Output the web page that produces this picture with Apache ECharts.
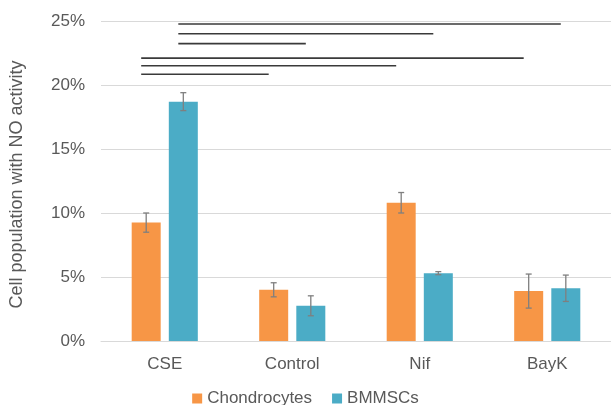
<!DOCTYPE html>
<html>
<head>
<meta charset="utf-8">
<script src="https://cdn.jsdelivr.net/npm/echarts@6/dist/echarts.min.js"></script>
<style>
html,body{margin:0;padding:0;background:#fff;}
#chart{width:611px;height:405px;}
</style>
</head>
<body>
<div id="chart"></div>
<script>
// Data
var categories = ['CSE', 'Control', 'Nif', 'BayK'];
var seriesNames = ['Chondrocytes', 'BMMSCs'];
var chondrocytes = [9.25, 4.0, 10.8, 3.9];
var chondrocytesErr = [0.75, 0.55, 0.8, 1.33];
var bmmscs = [18.7, 2.75, 5.3, 4.12];
var bmmscsErr = [0.7, 0.78, 0.12, 1.03];
var yTicks = [0, 5, 10, 15, 20, 25];
// significance lines: from (category, series index) to (category, series index) at level
var sigLevel = [24.77, 24.0, 23.23, 22.1, 21.5, 20.84];
var sigFromCat = ['CSE', 'CSE', 'CSE', 'CSE', 'CSE', 'CSE'];
var sigFromSeries = [1, 1, 1, 0, 0, 0];
var sigToCat = ['BayK', 'Nif', 'Control', 'BayK', 'Nif', 'Control'];
var sigToSeries = [1, 1, 1, 0, 0, 0];

var colors = ['#F79646', '#4BACC6'];
var textColor = '#595959';
var font = '"Liberation Sans", Arial, sans-serif';
var BAR_W = 29;
var GAP_RATIO = 0.28;
var barOffset = (BAR_W + BAR_W * GAP_RATIO) / 2;

function errData(vals, errs) {
  return vals.map(function (v, i) { return [i, v - errs[i], v + errs[i]]; });
}
function errSeries(vals, errs, sign) {
  return {
    type: 'custom',
    z: 5,
    silent: true,
    data: errData(vals, errs),
    renderItem: function (params, api) {
      var x = api.value(0);
      var lo = api.coord([x, api.value(1)]);
      var hi = api.coord([x, api.value(2)]);
      var cx = lo[0] + sign * barOffset;
      var hw = 3;
      var st = { stroke: '#7f7f7f', lineWidth: 1.3 };
      return {
        type: 'group',
        children: [
          { type: 'line', shape: { x1: cx, y1: hi[1], x2: cx, y2: lo[1] }, style: st },
          { type: 'line', shape: { x1: cx - hw, y1: hi[1], x2: cx + hw, y2: hi[1] }, style: st },
          { type: 'line', shape: { x1: cx - hw, y1: lo[1], x2: cx + hw, y2: lo[1] }, style: st }
        ]
      };
    }
  };
}

var sigData = sigLevel.map(function (lv, i) {
  return [categories.indexOf(sigFromCat[i]), sigFromSeries[i], categories.indexOf(sigToCat[i]), sigToSeries[i], lv];
});

var chart = echarts.init(document.getElementById('chart'));
chart.setOption({
  animation: false,
  color: colors,
  textStyle: { fontFamily: font },
  grid: { left: 99.5, right: 0, top: 21, bottom: 64, containLabel: false },
  legend: {
    data: seriesNames,
    top: 385,
    left: 'center',
    itemWidth: 10,
    itemHeight: 10,
    itemGap: 20,
    icon: 'rect',
    textStyle: { color: textColor, fontSize: 17, fontFamily: font }
  },
  xAxis: {
    type: 'category',
    data: categories,
    axisTick: { show: false },
    axisLine: { show: true, lineStyle: { color: '#d9d9d9', width: 1 } },
    axisLabel: { color: textColor, fontSize: 17, margin: 15, fontFamily: font }
  },
  yAxis: {
    type: 'value',
    min: yTicks[0],
    max: yTicks[yTicks.length - 1],
    interval: yTicks[1] - yTicks[0],
    name: 'Cell population with NO activity',
    nameLocation: 'middle',
    nameGap: 75,
    nameTextStyle: { color: textColor, fontSize: 18, fontFamily: font, padding: [0, 7, 0, 0] },
    axisLine: { show: false },
    axisTick: { show: false },
    axisLabel: { color: textColor, fontSize: 17, margin: 16, formatter: '{value}%', fontFamily: font },
    splitLine: { lineStyle: { color: '#d9d9d9', width: 1 } }
  },
  series: [
    {
      name: seriesNames[0], type: 'bar', data: chondrocytes,
      barWidth: BAR_W, barGap: (GAP_RATIO * 100) + '%',
      itemStyle: { color: colors[0] }
    },
    {
      name: seriesNames[1], type: 'bar', data: bmmscs,
      barWidth: BAR_W, barGap: (GAP_RATIO * 100) + '%',
      itemStyle: { color: colors[1] }
    },
    errSeries(chondrocytes, chondrocytesErr, -1),
    errSeries(bmmscs, bmmscsErr, 1),
    {
      type: 'custom',
      z: 6,
      silent: true,
      data: sigData,
      renderItem: function (params, api) {
        var a = api.coord([api.value(0), api.value(4)]);
        var b = api.coord([api.value(2), api.value(4)]);
        var x1 = a[0] + (api.value(1) === 0 ? -1 : 1) * barOffset - 5;
        var x2 = b[0] + (api.value(3) === 0 ? -1 : 1) * barOffset - 5;
        return {
          type: 'line',
          shape: { x1: x1, y1: a[1], x2: x2, y2: a[1] },
          style: { stroke: '#3a3a3a', lineWidth: 1.6 }
        };
      }
    }
  ]
});
</script>
</body>
</html>
